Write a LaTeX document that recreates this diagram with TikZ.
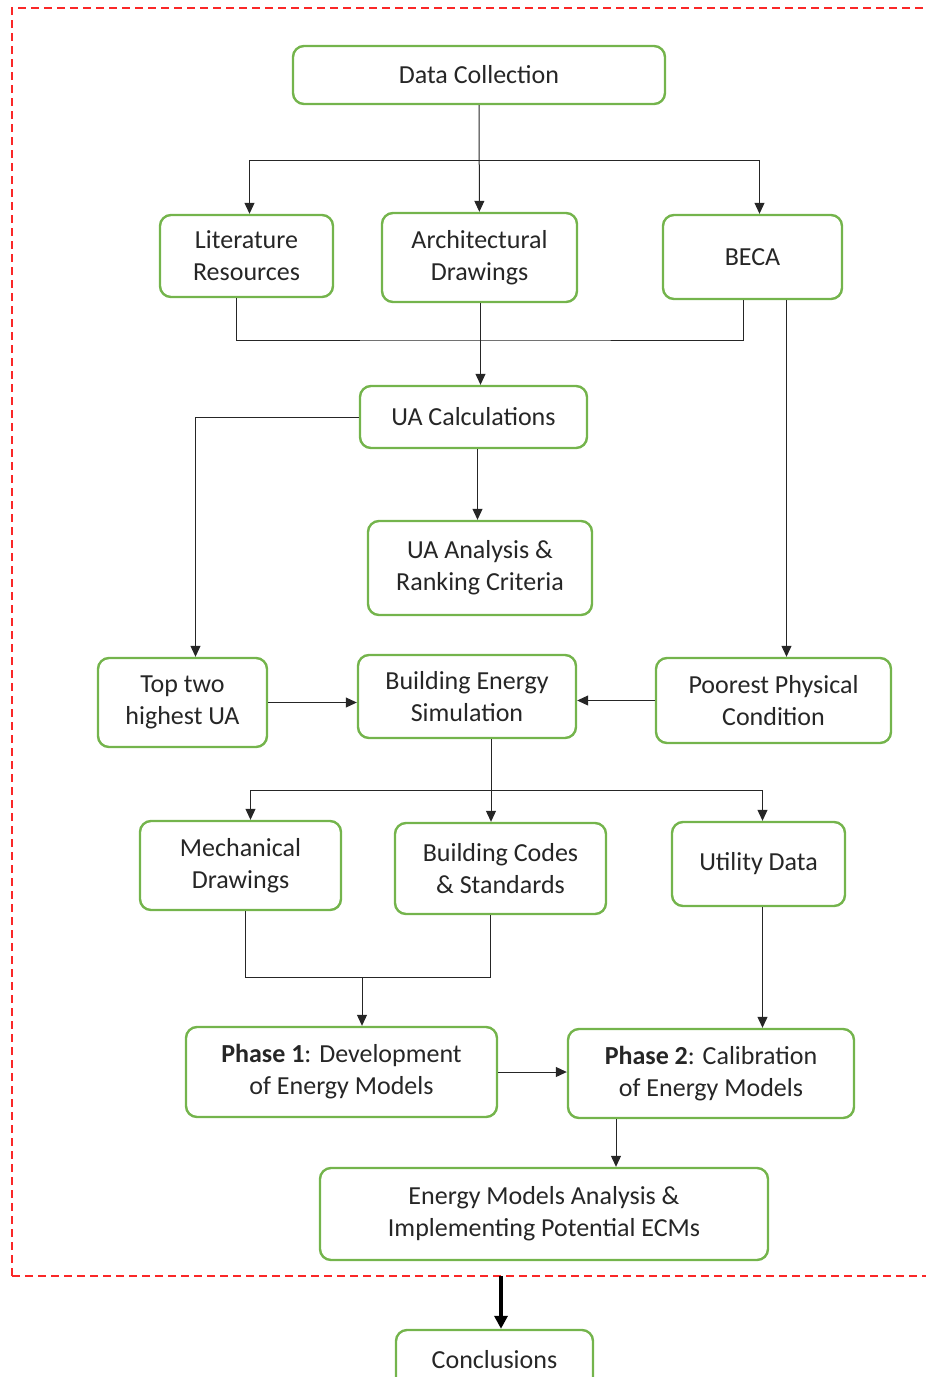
\documentclass[tikz,border=0pt]{standalone}
\usepackage{fontspec}
\setmainfont{Carlito}
\usetikzlibrary{arrows.meta, positioning}
\definecolor{boxgreen}{RGB}{116,180,76}
\definecolor{framered}{RGB}{250,40,40}

\tikzset{
  stepbox/.style={draw=boxgreen, line width=2.4pt, rounded corners=11pt,
    align=center, text=black!85, inner sep=0pt,
    font=\fontsize{26}{32}\selectfont},
  link/.style={-{Triangle[length=11pt,width=10pt]}, line width=1pt, black!85},
  plain/.style={line width=1pt, black!85},
}

\begin{document}
\begin{tikzpicture}[x=1pt, y=-1pt]
    \useasboundingbox (0,0) rectangle (926,1377);

    % Outer frame
    \draw[framered, line width=2.2pt, dash pattern=on 8pt off 5pt]
        (12,1276) -- (12,8) -- (960,8) (12,1276) -- (960,1276);

    % Boxes
    \node[stepbox, minimum width=372, minimum height=58] at (479,75) (data) {Data Collection};
    \node[stepbox, minimum width=173, minimum height=82] at (246.5,256) (lit) {Literature\\Resources};
    \node[stepbox, minimum width=195, minimum height=89] at (479.5,257.5) (arch) {Architectural\\Drawings};
    \node[stepbox, minimum width=179, minimum height=84] at (752.5,257) (beca) {BECA};
    \node[stepbox, minimum width=227, minimum height=62] at (473.5,417) (uacalc) {UA Calculations};
    \node[stepbox, minimum width=224, minimum height=94] at (480,568) (uaana) {UA Analysis \&\\Ranking Criteria};
    \node[stepbox, minimum width=169, minimum height=89] at (182.5,702.5) (top) {Top two\\highest UA};
    \node[stepbox, minimum width=218, minimum height=83] at (467,696.5) (bes) {Building Energy\\Simulation};
    \node[stepbox, minimum width=235, minimum height=85] at (773.5,700.5) (poor) {Poorest Physical\\Condition};
    \node[stepbox, minimum width=201, minimum height=89] at (240.5,865.5) (mech) {Mechanical\\Drawings};
    \node[stepbox, minimum width=211, minimum height=91] at (500.5,868.5) (codes) {Building Codes\\\& Standards};
    \node[stepbox, minimum width=173, minimum height=84] at (758.5,864) (util) {Utility Data};
    \node[stepbox, minimum width=311, minimum height=90] at (341.5,1072) (ph1) {\textbf{Phase 1}: Development\\of Energy Models};
    \node[stepbox, minimum width=286, minimum height=89] at (711,1073.5) (ph2) {\textbf{Phase 2}: Calibration\\of Energy Models};
    \node[stepbox, minimum width=448, minimum height=92] at (544,1214) (ema) {Energy Models Analysis \&\\Implementing Potential ECMs};
    \node[stepbox, minimum width=197, minimum height=60] at (494.5,1360) (concl) {Conclusions};

    % Data collection split
    \coordinate (split1) at (479,160);
    \draw[link] (data) -- (arch);
    \draw[link] (split1) -| ([xshift=3]lit.north);
    \draw[link] (split1) -| ([xshift=7]beca.north);

    % Sources into UA calculations
    \coordinate (merge1) at (481,340);
    \draw[plain] ([xshift=-10]lit.south) |- (merge1) -| ([xshift=-9]beca.south);
    \draw[link] ([xshift=1]arch.south) -- ([xshift=1]arch.south |- uacalc.north);
    \draw[link] ([xshift=34]beca.south) -- ([xshift=34]beca.south |- poor.north);

    % UA results
    \draw[link] (uacalc.west) -| ([xshift=13]top.north);
    \draw[link] ([xshift=4]uacalc.south) -- ([xshift=4]uacalc.south |- uaana.north);

    % Into simulation
    \draw[link] (top.east) -- (top.east -| bes.west);
    \draw[link] (poor.west) -- (poor.west -| bes.east);

    % Simulation inputs
    \coordinate (split2) at (491,790);
    \draw[link] ([xshift=24]bes.south) -- ([xshift=24]bes.south |- codes.north);
    \draw[link] (split2) -| ([xshift=10]mech.north);
    \draw[link] (split2) -| ([xshift=4]util.north);

    % Phases
    \coordinate (merge2) at (362,977);
    \draw[plain] ([xshift=5]mech.south) |- (merge2) -| ([xshift=-10]codes.south);
    \draw[link] (merge2) -- (merge2 |- ph1.north);
    \draw[link] ([xshift=4]util.south) -- ([xshift=4]util.south |- ph2.north);
    \draw[link] (ph1.east) -- (ph1.east -| ph2.west);
    \draw[link] ([xshift=-95]ph2.south) -- ([xshift=-95]ph2.south |- ema.north);

    % Out of the frame
    \coordinate (exit) at (501,1276);
    \draw[-{Triangle[length=13pt,width=13pt]}, line width=3.5pt] (exit) -- (exit |- concl.north);
\end{tikzpicture}
\end{document}
